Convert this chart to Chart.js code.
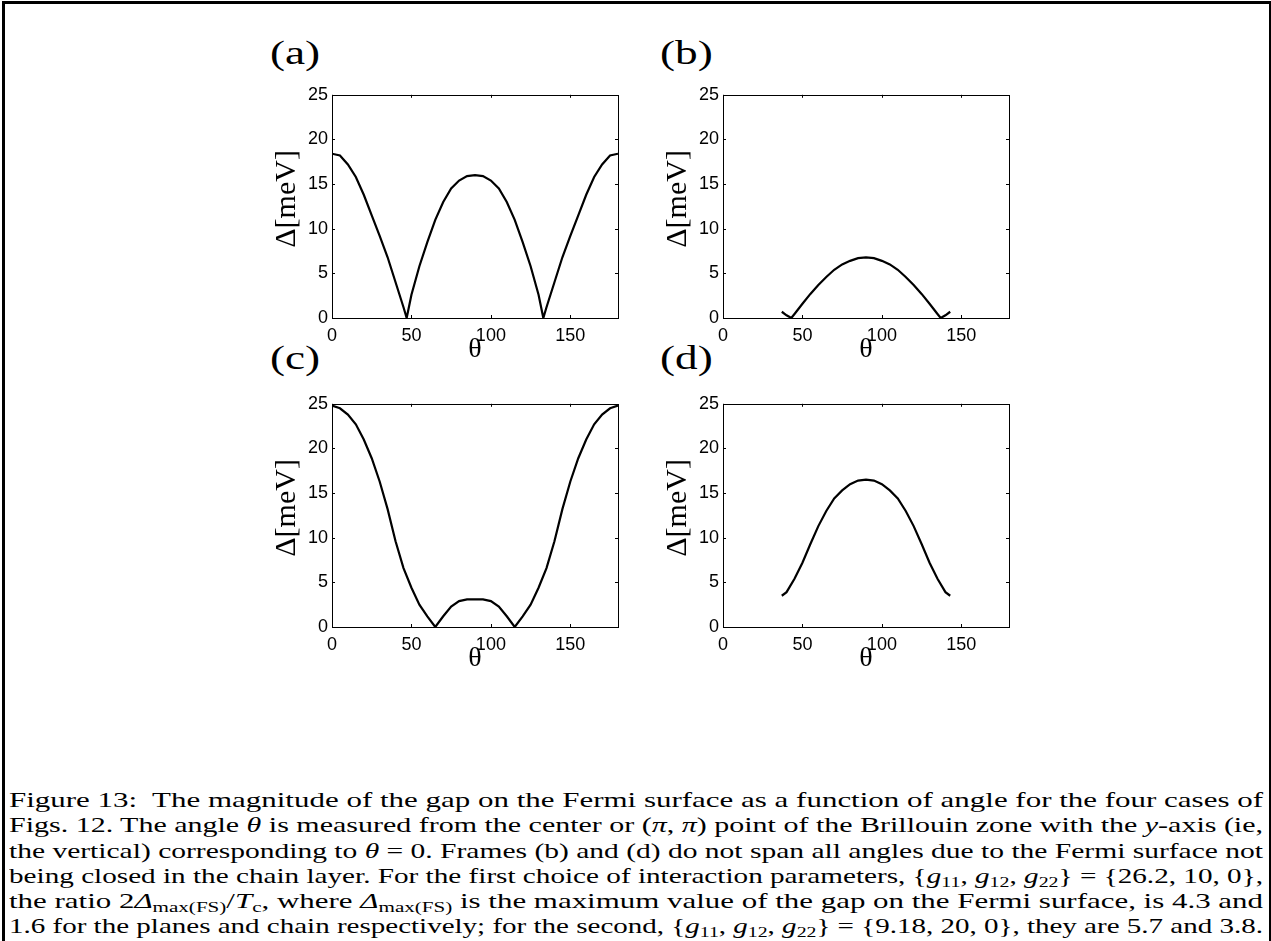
<!DOCTYPE html>
<html>
<head>
<meta charset="utf-8">
<script src="https://cdn.jsdelivr.net/npm/chart.js@4.4.1/dist/chart.umd.min.js"></script>
<style>
  html, body { margin:0; padding:0; background:#fff; }
  body { width:1271px; height:941px; position:relative; overflow:hidden; }
  .frame { position:absolute; left:2px; top:1px; width:1264px; height:1000px; border:3px solid #000; border-bottom:none; box-sizing:content-box; }
  .cv { position:absolute; width:390px; height:290px; }
  .plabel { position:absolute; font-family:"Liberation Serif", serif; font-size:33px; line-height:33px; transform:scaleX(1.37); transform-origin:left top; color:#000; }
  .caption { position:absolute; left:9px; top:787px; width:1254px; font-family:"Liberation Serif", serif; font-size:22px; line-height:25.3px; color:#000; }
  .caption .ln { display:block; height:25.3px; white-space:nowrap; }
  .caption .ln span { display:inline-block; transform-origin:left center; }
  .caption sub { font-size:15px; vertical-align:-4px; line-height:0; }
</style>
</head>
<body>
<div class="frame"></div>
<div class="plabel" style="left:270px; top:37px;">(a)</div>
<div class="plabel" style="left:660px; top:37px;">(b)</div>
<div class="plabel" style="left:270px; top:342px;">(c)</div>
<div class="plabel" style="left:660px; top:342px;">(d)</div>
<div class="cv" style="left:240px; top:80px;"><canvas id="ca" width="390" height="290"></canvas></div>
<div class="cv" style="left:631px; top:80px;"><canvas id="cb" width="390" height="290"></canvas></div>
<div class="cv" style="left:240px; top:389px;"><canvas id="cc" width="390" height="290"></canvas></div>
<div class="cv" style="left:631px; top:389px;"><canvas id="cd" width="390" height="290"></canvas></div>
<div class="caption" id="cap">
  <div class="ln"><span>Figure 13:&nbsp; The magnitude of the gap on the Fermi surface as a function of angle for the four cases of</span></div>
  <div class="ln"><span>Figs. 12. The angle <i>θ</i> is measured from the center or (<i>π</i>, <i>π</i>) point of the Brillouin zone with the <i>y</i>-axis (ie,</span></div>
  <div class="ln"><span>the vertical) corresponding to <i>θ</i> = 0. Frames (b) and (d) do not span all angles due to the Fermi surface not</span></div>
  <div class="ln"><span>being closed in the chain layer. For the first choice of interaction parameters, {<i>g</i><sub>11</sub>, <i>g</i><sub>12</sub>, <i>g</i><sub>22</sub>} = {26.2, 10, 0},</span></div>
  <div class="ln"><span>the ratio 2<i>Δ</i><sub>max(FS)</sub>/<i>T</i><sub>c</sub>, where <i>Δ</i><sub>max(FS)</sub> is the maximum value of the gap on the Fermi surface, is 4.3 and</span></div>
  <div class="ln"><span>1.6 for the planes and chain respectively; for the second, {<i>g</i><sub>11</sub>, <i>g</i><sub>12</sub>, <i>g</i><sub>22</sub>} = {9.18, 20, 0}, they are 5.7 and 3.8.</span></div>
</div>
<script>
// ---- data ----
const xTickValues = [0, 50, 100, 150];
const yTickValues = [0, 5, 10, 15, 20, 25];

const thetaA = [0,5,10,15,20,25,30,35,40,45,47,50,55,60,65,70,75,80,85,90,95,100,105,110,115,120,125,130,133,135,140,145,150,155,160,165,170,175,180];
const gapA   = [18.4,18.2,17.2,15.8,13.8,11.5,9.2,6.8,4.0,1.2,0,2.6,5.8,8.5,11.0,13.0,14.5,15.4,15.9,16.0,15.9,15.4,14.5,13.0,11.0,8.5,5.8,2.6,0,1.2,4.0,6.8,9.2,11.5,13.8,15.8,17.2,18.2,18.4];

const thetaB = [37,40,43,45,50,55,60,65,70,75,80,85,90,95,100,105,110,115,120,125,130,135,137,140,143];
const gapB   = [0.7,0.3,0,0.45,1.6,2.7,3.7,4.6,5.4,6.0,6.4,6.7,6.8,6.7,6.4,6.0,5.4,4.6,3.7,2.7,1.6,0.45,0,0.3,0.7];

const thetaC = [0,5,10,15,20,25,30,35,40,45,50,55,60,65,70,75,80,85,90,95,100,105,110,115,120,125,130,135,140,145,150,155,160,165,170,175,180];
const gapC   = [24.8,24.5,23.8,22.7,21.0,18.9,16.3,13.2,9.6,6.6,4.4,2.5,1.2,0,1.2,2.3,2.9,3.1,3.1,3.1,2.9,2.3,1.2,0,1.2,2.5,4.4,6.6,9.6,13.2,16.3,18.9,21.0,22.7,23.8,24.5,24.8];

const thetaD = [37,40,45,50,55,60,65,70,75,80,85,90,95,100,105,110,115,120,125,130,135,140,143];
const gapD   = [3.5,3.9,5.4,7.2,9.3,11.3,13.0,14.4,15.3,16.0,16.4,16.5,16.4,16.0,15.3,14.4,13.0,11.3,9.3,7.2,5.4,3.9,3.5];

const xLabel = 'θ';
const yLabel = '\u2002Δ[meV]';

// stretch each caption line to the full text width (justified like the reference)
(function () {
  const W = document.getElementById('cap').clientWidth;
  document.querySelectorAll('#cap .ln span').forEach(s => {
    const w = s.getBoundingClientRect().width;
    s.style.transform = 'scaleX(' + (W / w) + ')';
  });
})();

// box with inward ticks on all four sides
const boxPlugin = {
  id: 'boxTicks',
  afterDraw(chart) {
    const {ctx, chartArea: a, scales: {x, y}} = chart;
    const L = 3;
    ctx.save();
    ctx.strokeStyle = '#000';
    ctx.lineWidth = 1;
    ctx.strokeRect(Math.round(a.left) + 0.5, Math.round(a.top) + 0.5, Math.round(a.right - a.left), Math.round(a.bottom - a.top));
    ctx.beginPath();
    xTickValues.forEach(v => {
      const px = Math.round(x.getPixelForValue(v)) + 0.5;
      ctx.moveTo(px, a.bottom); ctx.lineTo(px, a.bottom - L);
      ctx.moveTo(px, a.top); ctx.lineTo(px, a.top + L);
    });
    yTickValues.forEach(v => {
      const py = Math.round(y.getPixelForValue(v)) + 0.5;
      ctx.moveTo(a.left, py); ctx.lineTo(a.left + L, py);
      ctx.moveTo(a.right, py); ctx.lineTo(a.right - L, py);
    });
    ctx.stroke();
    ctx.restore();
  }
};

function makePanel(id, thetas, gaps) {
  new Chart(document.getElementById(id), {
    type: 'line',
    data: {
      datasets: [{
        data: thetas.map((t, i) => ({x: t, y: gaps[i]})),
        borderColor: '#000',
        borderWidth: 2.2,
        pointRadius: 0,
        tension: 0,
        fill: false
      }]
    },
    options: {
      responsive: false,
      animation: false,
      devicePixelRatio: 1,
      layout: { padding: { left: 0, right: 12, top: 13, bottom: 0 } },
      plugins: { legend: { display: false }, tooltip: { enabled: false } },
      scales: {
        x: {
          type: 'linear', min: 0, max: 180,
          afterBuildTicks: s => { s.ticks = xTickValues.map(v => ({value: v})); },
          afterFit: s => { s.height = 52; },
          grid: { display: false, drawTicks: false },
          border: { display: false },
          ticks: { color: '#000', font: { family: 'Liberation Sans', size: 18 }, padding: 7, maxRotation: 0, autoSkip: false },
          title: { display: true, text: xLabel, color: '#000', font: { family: 'Liberation Serif', size: 28, lineHeight: 1 }, padding: { top: 0, bottom: 6 } }
        },
        y: {
          type: 'linear', min: 0, max: 25,
          afterBuildTicks: s => { s.ticks = yTickValues.map(v => ({value: v})); },
          afterFit: s => { s.width = 92; },
          grid: { display: false, drawTicks: false },
          border: { display: false },
          ticks: { color: '#000', font: { family: 'Liberation Sans', size: 18 }, padding: 4, autoSkip: false },
          title: { display: true, text: yLabel, color: '#000', font: { family: 'Liberation Serif', size: 30, lineHeight: 1 }, padding: { top: 32, bottom: 0 } }
        }
      }
    },
    plugins: [boxPlugin]
  });
}

makePanel('ca', thetaA, gapA);
makePanel('cb', thetaB, gapB);
makePanel('cc', thetaC, gapC);
makePanel('cd', thetaD, gapD);
</script>
</body>
</html>
